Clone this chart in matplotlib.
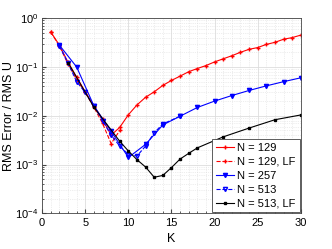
import numpy as np
import matplotlib
matplotlib.use("Agg")
import matplotlib.pyplot as plt
from matplotlib.ticker import LogLocator, NullFormatter

plt.rcParams['font.family'] = ['Liberation Sans', 'DejaVu Sans']
plt.rcParams['mathtext.fontset'] = 'custom'
plt.rcParams['mathtext.rm'] = 'Liberation Sans'
plt.rcParams['mathtext.it'] = 'Liberation Sans'

# N = 129 (every K)
k_129 = list(range(1, 31))
err_129 = [0.52, 0.28, 0.125, 0.062, 0.031, 0.016, 0.0085, 0.0040, 0.0058, 0.0105,
           0.0167, 0.024, 0.031, 0.042, 0.053, 0.065, 0.080, 0.093, 0.107, 0.127,
           0.147, 0.170, 0.200, 0.230, 0.250, 0.290, 0.320, 0.370, 0.400, 0.450]

# N = 129, LF
k_129lf = [1, 2, 3, 4, 5, 6, 7, 8, 9]
err_129lf = [0.52, 0.27, 0.115, 0.055, 0.030, 0.015, 0.0070, 0.0027, 0.0050]

# N = 257
k_257 = [2, 4, 6, 8, 10, 12, 14, 16, 18, 20, 22, 24, 26, 28, 30]
err_257 = [0.28, 0.10, 0.016, 0.0048, 0.0014, 0.0026, 0.0065, 0.0098, 0.0148,
           0.020, 0.026, 0.033, 0.041, 0.050, 0.060]

# N = 513
k_513 = [2, 3, 4, 5, 6, 7, 8, 9, 10, 11, 12, 13, 14, 16]
err_513 = [0.27, 0.12, 0.050, 0.030, 0.016, 0.0080, 0.0040, 0.0024, 0.0016,
           0.0015, 0.0024, 0.0045, 0.0068, 0.0098]

# N = 513, LF
k_513lf = [3, 6, 9, 10, 11, 12, 13, 14, 15, 16, 17, 18, 21, 24, 27, 30]
err_513lf = [0.123, 0.015, 0.0030, 0.0019, 0.00126, 0.00089, 0.00055, 0.00060,
             0.00087, 0.0013, 0.0017, 0.0022, 0.0037, 0.0056, 0.0083, 0.0104]

fig = plt.figure(figsize=(3.32, 2.49), dpi=100)
ax = fig.add_axes([0.127, 0.143, 0.779, 0.784])

lw = 0.8
ms = 3
ax.plot(k_129, err_129, '-', color='#ff0000', marker='+', ms=ms, lw=lw, label='N = 129')
ax.plot(k_129lf, err_129lf, '--', color='#ff0000', marker='+', ms=ms, lw=lw, label='N = 129, LF')
ax.plot(k_257, err_257, '-', color='#0000ff', marker='v', ms=ms, lw=lw, label='N = 257')
ax.plot(k_513, err_513, '--', color='#0000ff', marker='v', ms=ms, lw=lw,
        markerfacecolor='none', label='N = 513')
ax.plot(k_513lf, err_513lf, '-', color='#000000', marker='s', ms=2, lw=lw, label='N = 513, LF')

ax.set_yscale('log')
ax.set_xlim(0, 30)
ax.set_ylim(1e-4, 1)
ax.set_xticks([0, 5, 10, 15, 20, 25, 30])
ax.yaxis.set_major_locator(LogLocator(base=10, numticks=10))
ax.yaxis.set_minor_locator(LogLocator(base=10, subs=np.arange(2, 10), numticks=10))
ax.yaxis.set_minor_formatter(NullFormatter())
ax.set_xticks(np.arange(0, 31, 1), minor=True)

ax.grid(True, which='major', color='#dddddd', lw=0.6)
ax.grid(True, which='minor', color='#dddddd', lw=0.5, ls=':')
ax.set_axisbelow(True)

ax.tick_params(which='both', direction='in', labelsize=8, color='#444444', pad=3)
ax.tick_params(which='minor', length=1.5)
ax.tick_params(which='major', length=3)
for s in ax.spines.values():
    s.set_color('#444444')
    s.set_linewidth(0.6)

ax.set_xlabel('K', fontsize=9)
ax.set_ylabel('RMS Error / RMS U', fontsize=9)
ax.yaxis.set_label_coords(-0.105, 0.5)
ax.xaxis.set_label_coords(0.5, -0.10)

leg = ax.legend(loc='lower right', fontsize=8, borderaxespad=0.1, handlelength=1.6,
                handletextpad=0.3, labelspacing=0.35, borderpad=0.35, fancybox=False,
                framealpha=1)
leg.get_frame().set_edgecolor('#444444')
leg.get_frame().set_linewidth(0.6)

fig.savefig('out.png', dpi=100)
